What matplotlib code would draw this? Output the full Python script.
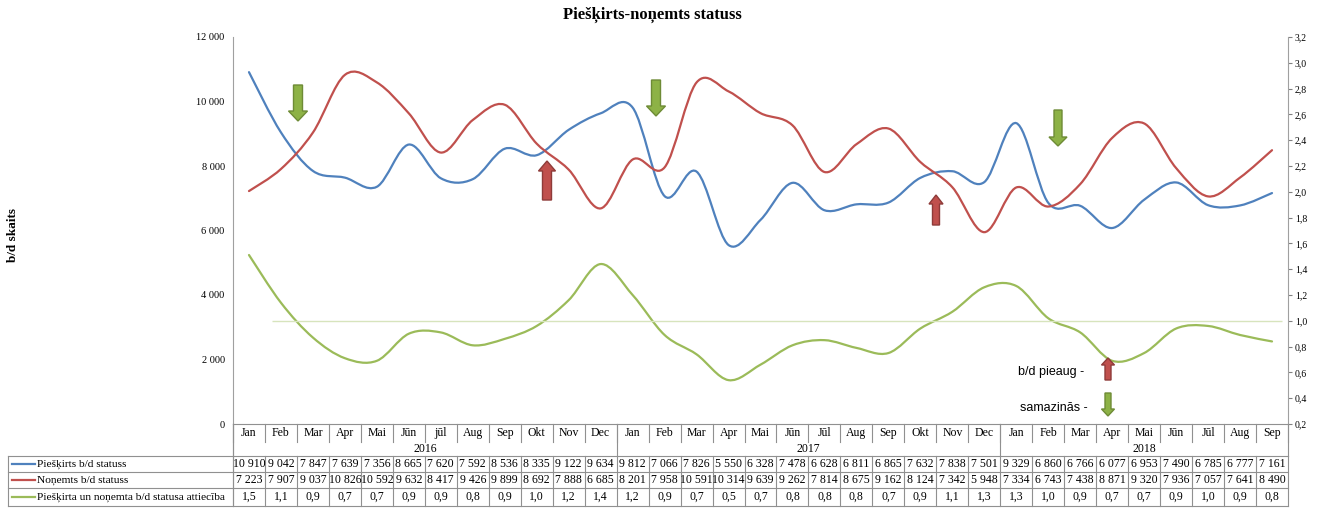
import numpy as np
import matplotlib
matplotlib.use("Agg")
import matplotlib.pyplot as plt
from matplotlib.path import Path
from matplotlib.patches import PathPatch, FancyArrow
from matplotlib.transforms import Affine2D
from matplotlib.ticker import FixedLocator

# Data
months = ["Jan", "Feb", "Mar", "Apr", "Mai", "Jūn", "jūl", "Aug", "Sep", "Okt", "Nov", "Dec",
          "Jan", "Feb", "Mar", "Apr", "Mai", "Jūn", "Jūl", "Aug", "Sep", "Okt", "Nov", "Dec",
          "Jan", "Feb", "Mar", "Apr", "Mai", "Jūn", "Jūl", "Aug", "Sep"]
years = ["2016", "2017", "2018"]
year_lengths = [12, 12, 9]

pieskirts = [10910, 9042, 7847, 7639, 7356, 8665, 7620, 7592, 8536, 8335, 9122, 9634,
             9812, 7066, 7826, 5550, 6328, 7478, 6628, 6811, 6865, 7632, 7838, 7501,
             9329, 6860, 6766, 6077, 6953, 7490, 6785, 6777, 7161]
nonemts = [7223, 7907, 9037, 10826, 10592, 9632, 8417, 9426, 9899, 8692, 7888, 6685,
           8201, 7958, 10591, 10314, 9639, 9262, 7814, 8675, 9162, 8124, 7342, 5948,
           7334, 6743, 7438, 8871, 9320, 7936, 7057, 7641, 8490]
# ratio as plotted (unrounded) and as shown in the table
attieciba = [1.51, 1.14, 0.87, 0.71, 0.69, 0.90, 0.91, 0.81, 0.86, 0.96, 1.16, 1.44,
             1.20, 0.89, 0.74, 0.54, 0.66, 0.81, 0.85, 0.79, 0.75, 0.94, 1.07, 1.26,
             1.27, 1.02, 0.91, 0.69, 0.75, 0.94, 0.96, 0.89, 0.84]
attieciba_table = ["1,5", "1,1", "0,9", "0,7", "0,7", "0,9", "0,9", "0,8", "0,9", "1,0", "1,2", "1,4",
                   "1,2", "0,9", "0,7", "0,5", "0,7", "0,8", "0,8", "0,8", "0,7", "0,9", "1,1", "1,3",
                   "1,3", "1,0", "0,9", "0,7", "0,7", "0,9", "1,0", "0,9", "0,8"]

series_names = ["Piešķirts b/d statuss", "Noņemts b/d statuss",
                "Piešķirta un noņemta b/d statusa attiecība"]
blue, red, green = "#4F81BD", "#C0504D", "#9BBB59"

W, H = 1321, 508
plt.rcParams["font.family"] = ["Liberation Serif", "DejaVu Serif"]
fig = plt.figure(figsize=(W / 100, H / 100), dpi=100)

L, R, T, B = 233, 1288, 37, 424
ax = fig.add_axes([L / W, 1 - B / H, (R - L) / W, (B - T) / H])
ax2 = ax.twinx()

# pixel transform, origin top-left
PX = Affine2D().scale(1 / W, -1 / H).translate(0, 1) + fig.transFigure


def smooth_path(xs, ys):
    # bezier curve through points, similar to Excel "smoothed line"
    pts = np.column_stack([xs, ys]).astype(float)
    n = len(pts)
    verts = [pts[0]]
    codes = [Path.MOVETO]
    for i in range(n - 1):
        p0 = pts[i - 1] if i > 0 else pts[i]
        p1, p2 = pts[i], pts[i + 1]
        p3 = pts[i + 2] if i + 2 < n else pts[i + 1]
        verts += [p1 + (p2 - p0) / 6, p2 - (p3 - p1) / 6, p2]
        codes += [Path.CURVE4] * 3
    return Path(verts, codes)


x = np.arange(len(months))
ax.add_patch(PathPatch(smooth_path(x, pieskirts), fill=False, ec=blue, lw=1.6, capstyle="round"))
ax.add_patch(PathPatch(smooth_path(x, nonemts), fill=False, ec=red, lw=1.6, capstyle="round"))
ax2.add_patch(PathPatch(smooth_path(x, attieciba), fill=False, ec=green, lw=1.6, capstyle="round"))
ax2.hlines(1.0, 0.72, 32.3, color="#D7E4BD", lw=1.0)

ax.set_xlim(-0.5, len(months) - 0.5)
ax.set_ylim(0, 12000)
ax2.set_ylim(0.2, 3.2)
ax.set_xticks([])
ax.yaxis.set_major_locator(FixedLocator(range(0, 12001, 2000)))
ax.set_yticklabels([f"{v:,}".replace(",", " ") for v in range(0, 12001, 2000)], fontsize=7.5)
ax.tick_params(axis="y", length=0, pad=6)
r_ticks = np.round(np.arange(0.2, 3.21, 0.2), 1)
ax2.yaxis.set_major_locator(FixedLocator(r_ticks))
ax2.set_yticklabels([f"{v:.1f}".replace(".", ",") for v in r_ticks], fontsize=7)
ax2.tick_params(axis="y", length=3, color="#808080", pad=2)
for a in (ax, ax2):
    for s in ("top", "bottom"):
        a.spines[s].set_visible(False)
ax.spines["right"].set_visible(False)
ax2.spines["left"].set_visible(False)
ax.spines["left"].set_color("#A0A0A0")
ax2.spines["right"].set_color("#A0A0A0")

fig.text(652 / W, 1 - 15 / H, "Piešķirts-noņemts statuss", ha="center", va="center",
         fontsize=12, fontweight="bold")
fig.text(13 / W, 1 - 235 / H, "b/d skaits", ha="center", va="center", rotation=90,
         fontsize=9.5, fontweight="bold")

# data table below the plot
cw = (R - L) / len(months)
gc = "#909090"
tfs = 8.5


def hline(y, x0, x1, c=gc):
    fig.add_artist(plt.Line2D([x0, x1], [y, y], transform=PX, color=c, lw=0.8))


def vline(xp, y0, y1, c=gc):
    fig.add_artist(plt.Line2D([xp, xp], [y0, y1], transform=PX, color=c, lw=0.8))


hline(424, L, R)
for i, m in enumerate(months):
    cx = L + (i + 0.5) * cw
    fig.text(cx / W, 1 - 433 / H, m, ha="center", va="center", fontsize=tfs)
    fig.text(cx / W, 1 - 464 / H, f"{pieskirts[i]:,}".replace(",", " "), ha="center", va="center", fontsize=tfs)
    fig.text(cx / W, 1 - 480 / H, f"{nonemts[i]:,}".replace(",", " "), ha="center", va="center", fontsize=tfs)
    fig.text(cx / W, 1 - 497 / H, attieciba_table[i], ha="center", va="center", fontsize=tfs)
for i in range(len(months) + 1):
    xp = L + i * cw
    vline(xp, 424, 442)
    vline(xp, 456, 506)
start = 0
for yname, n in zip(years, year_lengths):
    cx = L + (start + n / 2) * cw
    fig.text(cx / W, 1 - 449 / H, yname, ha="center", va="center", fontsize=tfs)
    vline(L + start * cw, 424, 456)
    start += n
vline(R, 424, 456)
vline(L, 424, 506)
vline(8, 456, 506)
for yy in (456, 472, 488, 506):
    hline(yy, 8, R)
for yy, name, c in zip((464, 480, 497), series_names, (blue, red, green)):
    fig.add_artist(plt.Line2D([12, 35], [yy, yy], transform=PX, color=c, lw=1.6))
    fig.text(37 / W, 1 - yy / H, name, ha="left", va="center", fontsize=8.2)


# block arrows (pixel coords)
def arrow(xp, y_start, y_tip, shaft, head, head_len, fc, ec):
    fig.add_artist(FancyArrow(xp, y_start, 0, y_tip - y_start, width=shaft, head_width=head,
                              head_length=head_len, length_includes_head=True,
                              transform=PX, fc=fc, ec=ec, lw=1.0))


gfc, gec = "#8DB246", "#6E8B36"
rfc, rec = "#C0504D", "#8E3B39"
arrow(298, 85, 121, 9, 19, 10, gfc, gec)
arrow(656, 80, 116, 9, 19, 10, gfc, gec)
arrow(1058, 110, 146, 8, 18, 9, gfc, gec)
arrow(547, 200, 161, 9, 17, 10, rfc, rec)
arrow(936, 225, 195, 7, 14, 9, rfc, rec)
arrow(1108, 380, 358, 6, 13, 7, rfc, rec)
arrow(1108, 393, 416, 6, 13, 7, gfc, gec)
fig.text(1084 / W, 1 - 372 / H, "b/d pieaug -", ha="right", va="center", fontsize=9,
         family=["Liberation Sans", "DejaVu Sans"])
fig.text(1088 / W, 1 - 408 / H, "samazinās -", ha="right", va="center", fontsize=9,
         family=["Liberation Sans", "DejaVu Sans"])

fig.savefig("out.png", dpi=100)
